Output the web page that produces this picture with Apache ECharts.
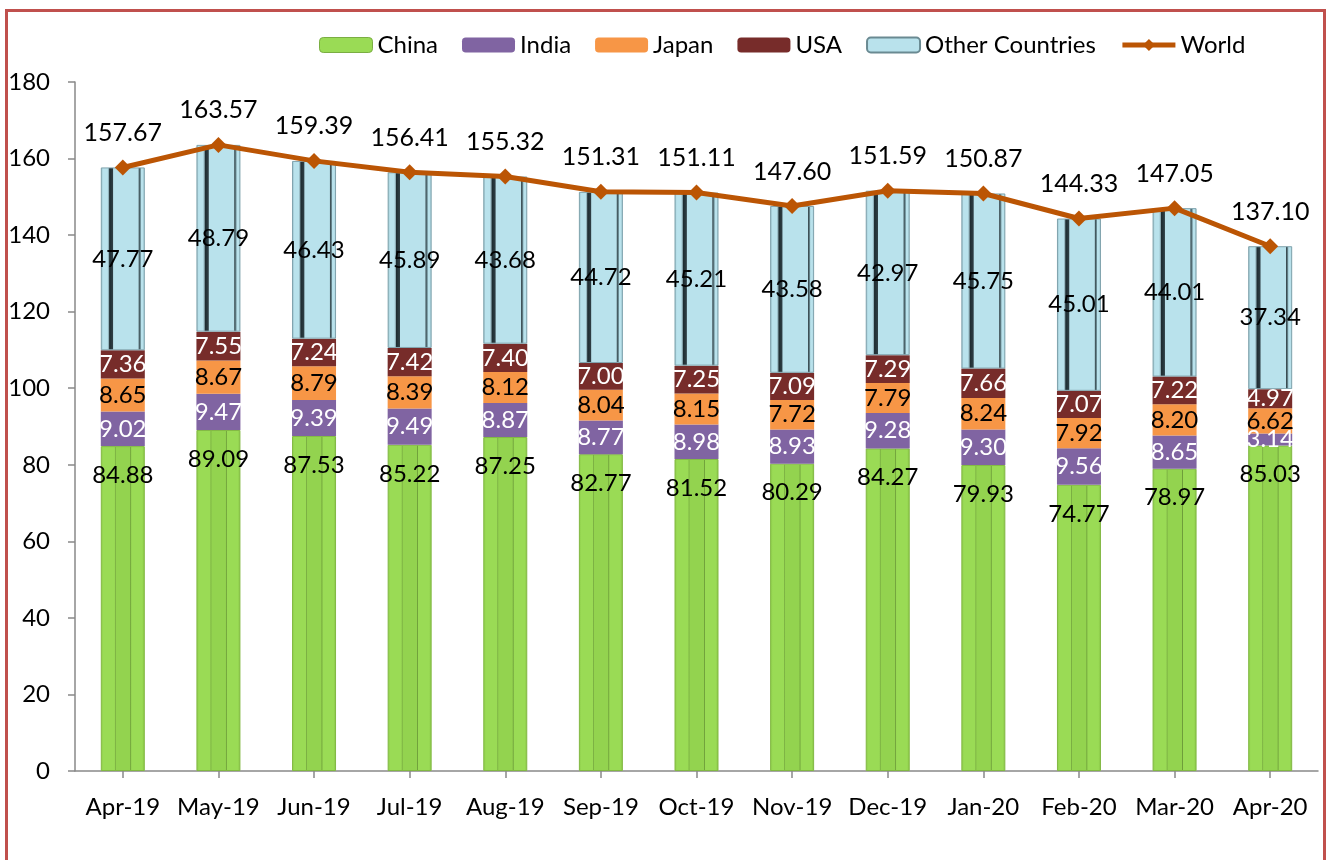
<!DOCTYPE html>
<html>
<head>
<meta charset="utf-8">
<script src="https://cdn.jsdelivr.net/npm/echarts@6/dist/echarts.min.js"></script>
<style>
html,body{margin:0;padding:0;background:#fff;}
#main{width:1328px;height:860px;}
</style>
</head>
<body>
<div id="main"></div>
<script>
var categories = ['Apr-19','May-19','Jun-19','Jul-19','Aug-19','Sep-19','Oct-19','Nov-19','Dec-19','Jan-20','Feb-20','Mar-20','Apr-20'];
var china = [84.88, 89.09, 87.53, 85.22, 87.25, 82.77, 81.52, 80.29, 84.27, 79.93, 74.77, 78.97, 85.03];
var india = [9.02, 9.47, 9.39, 9.49, 8.87, 8.77, 8.98, 8.93, 9.28, 9.30, 9.56, 8.65, 3.14];
var japan = [8.65, 8.67, 8.79, 8.39, 8.12, 8.04, 8.15, 7.72, 7.79, 8.24, 7.92, 8.20, 6.62];
var usa = [7.36, 7.55, 7.24, 7.42, 7.40, 7.00, 7.25, 7.09, 7.29, 7.66, 7.07, 7.22, 4.97];
var others = [47.77, 48.79, 46.43, 45.89, 43.68, 44.72, 45.21, 43.58, 42.97, 45.75, 45.01, 44.01, 37.34];
var world = [157.67, 163.57, 159.39, 156.41, 155.32, 151.31, 151.11, 147.60, 151.59, 150.87, 144.33, 147.05, 137.10];
var yTicks = [0, 20, 40, 60, 80, 100, 120, 140, 160, 180];

var FONT = 'Lato';
function fmt(p){ return Number(p.value).toFixed(2); }

var greenGrad = {
  type:'linear', x:0, y:0, x2:1, y2:0,
  colorStops:[
    {offset:0, color:'#8CCB48'},
    {offset:0.06, color:'#9ADB55'},
    {offset:0.31, color:'#9ADB55'},
    {offset:0.33, color:'#7AAE42'},
    {offset:0.35, color:'#93D34F'},
    {offset:0.66, color:'#93D34F'},
    {offset:0.68, color:'#6E9E3A'},
    {offset:0.70, color:'#9ADB55'},
    {offset:0.94, color:'#9ADB55'},
    {offset:1, color:'#86C244'}
  ]
};
var blueGrad = {
  type:'linear', x:0, y:0, x2:1, y2:0,
  colorStops:[
    {offset:0, color:'#8DB3BD'},
    {offset:0.05, color:'#B9E2EC'},
    {offset:0.15, color:'#B9E2EC'},
    {offset:0.18, color:'#8AAAB3'},
    {offset:0.20, color:'#1E2C31'},
    {offset:0.27, color:'#2E3E44'},
    {offset:0.29, color:'#B9E2EC'},
    {offset:0.85, color:'#B9E2EC'},
    {offset:0.87, color:'#3A4C52'},
    {offset:0.90, color:'#6A8A92'},
    {offset:0.92, color:'#B9E2EC'},
    {offset:0.96, color:'#B9E2EC'},
    {offset:1, color:'#8DB3BD'}
  ]
};

function barSeries(name, data, color, labelColor, pos, dist, extra){
  var s = {
    name:name, type:'bar', stack:'total', data:data, barWidth:44,
    itemStyle:{color:color},
    label:{show:true, position:pos, distance:dist, formatter:fmt, color:labelColor,
      fontFamily:FONT, fontSize:24},
    emphasis:{disabled:true}
  };
  if(extra){ for(var k in extra){ s.itemStyle[k]=extra[k]; } }
  return s;
}

var chart = echarts.init(document.getElementById('main'), null, {renderer:'canvas'});
chart.setOption({
  animation:false,
  backgroundColor:'#ffffff',
  textStyle:{fontFamily:FONT},
  graphic:[{
    type:'rect', silent:true, z:100,
    shape:{x:6.5, y:10.5, width:1318, height:900},
    style:{fill:'none', stroke:'#C0504D', lineWidth:3}
  }],
  legend:{
    left:314, top:28, itemWidth:53, itemHeight:15, itemGap:24,
    textStyle:{fontFamily:FONT, fontSize:24, color:'#000'},
    data:[
      {name:'China', itemStyle:{color:'#9ADB55', borderColor:'#7AAE42', borderWidth:1}},
      'India','Japan','USA',
      {name:'Other Countries', itemStyle:{color:'#B9E2EC', borderColor:'#6A8A92', borderWidth:2}},
      {name:'World', lineStyle:{width:5, color:'#BB5504'}}]
  },
  grid:{left:75, right:10, top:82, bottom:89, containLabel:false},
  xAxis:{
    type:'category', data:categories, boundaryGap:true,
    axisLine:{lineStyle:{color:'#898989', width:1.5}},
    axisTick:{show:true, alignWithLabel:true, length:7, lineStyle:{color:'#898989', width:1.5}},
    axisLabel:{color:'#000', fontFamily:FONT, fontSize:24, margin:24, interval:0}
  },
  yAxis:{
    type:'value', min:yTicks[0], max:yTicks[yTicks.length-1], interval:20,
    axisLine:{show:true, lineStyle:{color:'#898989', width:1.5}},
    axisTick:{show:true, length:7, lineStyle:{color:'#898989', width:1.5}},
    splitLine:{show:false},
    axisLabel:{color:'#000', fontFamily:FONT, fontSize:24, margin:25}
  },
  series:[
    barSeries('China', china, greenGrad, '#000', 'insideTop', 17, {borderColor:'#82B843', borderWidth:1}),
    barSeries('India', india, '#8064A2', '#fff', 'inside', 0),
    barSeries('Japan', japan, '#F79646', '#000', 'inside', 0),
    barSeries('USA', usa, '#772C2A', '#fff', 'inside', 0),
    barSeries('Other Countries', others, blueGrad, '#000', 'inside', 0, {borderColor:'#7FA3AD', borderWidth:1}),
    {
      name:'World', type:'line', data:world, z:10,
      lineStyle:{color:'#BB5504', width:5},
      itemStyle:{color:'#BB5504'},
      symbol:'diamond', symbolSize:16,
      label:{show:true, position:'top', distance:14, formatter:fmt, color:'#000', fontFamily:FONT, fontSize:25},
      emphasis:{disabled:true}
    }
  ]
});
</script>
</body>
</html>
